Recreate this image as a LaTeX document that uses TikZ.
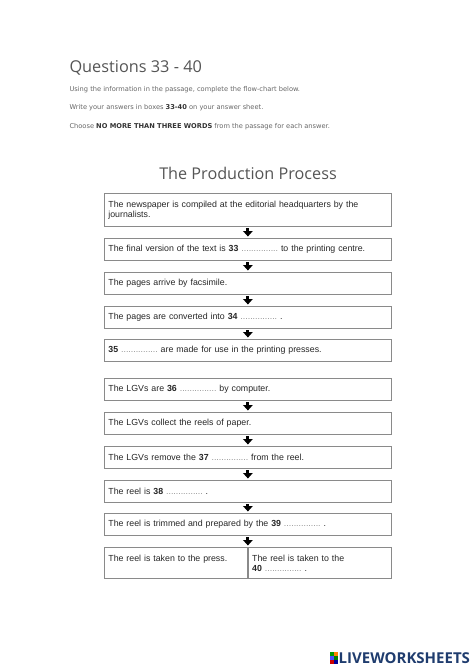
\documentclass[tikz,border=0pt]{standalone}
\usepackage{fontspec}
\usetikzlibrary{arrows.meta}
\newfontfamily\boxfont{Liberation Sans}
\newfontfamily\notefont{DejaVu Sans}
\newfontfamily\headfont{Open Sans}

\definecolor{boxgray}{HTML}{8A8A8A}
\definecolor{notegray}{HTML}{666666}
\definecolor{headgray}{HTML}{555555}
\definecolor{dotgray}{HTML}{8C8C8C}
\definecolor{lwblue}{HTML}{1F3C6E}

\newcommand{\blank}{\textcolor{dotgray}{...............}}

\tikzset{
  procbox/.style={draw=boxgray, line width=0.8pt, rectangle, anchor=north west,
    text width=279pt, inner xsep=4pt, inner ysep=2pt, minimum height=22pt,
    align=left, text=black!85, font=\boxfont\fontsize{8.8}{10}\selectfont},
  halfbox/.style={procbox, text width=135pt, minimum height=31pt},
  flowarrow/.style={-{Triangle[width=9.5pt,length=5.5pt]}, line width=3pt,
    shorten <=1.5pt, shorten >=1.5pt},
  note/.style={anchor=west, text=notegray, font=\notefont\fontsize{6.66}{8}\selectfont}
}

\begin{document}
\begin{tikzpicture}[x=1pt,y=-1pt]
    \useasboundingbox (0,0) rectangle (474,669);

    \node[anchor=base west,text=headgray,font=\headfont\fontsize{16.3}{18}\selectfont](questions)at(66,73){Questions 33 - 40};
    \node[note](line1)at(66,90){Using the information in the passage, complete the flow-chart below.};
    \node[note](line2)at(66,108){Write your answers in boxes \textbf{\color{black!80}33-40} on your answer sheet.};
    \node[note](line3)at(66,127){Choose \textbf{\color{black!80}NO MORE THAN THREE WORDS} from the passage for each answer.};

    \node[anchor=base,text=headgray,font=\headfont\fontsize{16.2}{18}\selectfont](title)at(248,179){The Production Process};

    \node[procbox,minimum height=33pt](b1)at(104,193){The newspaper is compiled at the editorial headquarters by the\\journalists.};
    \node[procbox](b2)at(104,238){The final version of the text is \textbf{33} \blank\ to the printing centre.};
    \node[procbox](b3)at(104,272){The pages arrive by facsimile.};
    \node[procbox](b4)at(104,306){The pages are converted into \textbf{34} \blank\ .};
    \node[procbox](b5)at(104,339){\textbf{35} \blank\ are made for use in the printing presses.};

    \node[procbox](b6)at(104,378){The LGVs are \textbf{36} \blank\ by computer.};
    \node[procbox](b7)at(104,412){The LGVs collect the reels of paper.};
    \node[procbox](b8)at(104,446){The LGVs remove the \textbf{37} \blank\ from the reel.};
    \node[procbox](b9)at(104,480){The reel is \textbf{38} \blank\ .};
    \node[procbox](b10)at(104,513){The reel is trimmed and prepared by the \textbf{39} \blank\ .};
    \node[halfbox](b11l)at(104,547){The reel is taken to the press.\\\mbox{}};
    \node[halfbox,anchor=north west](b11r)at(b11l.north east){The reel is taken to the\\\textbf{40} \blank\ .};

    \draw[flowarrow](b1.south)--(b2.north);
    \draw[flowarrow](b2.south)--(b3.north);
    \draw[flowarrow](b3.south)--(b4.north);
    \draw[flowarrow](b4.south)--(b5.north);

    \draw[flowarrow](b6.south)--(b7.north);
    \draw[flowarrow](b7.south)--(b8.north);
    \draw[flowarrow](b8.south)--(b9.north);
    \draw[flowarrow](b9.south)--(b10.north);
    \draw[flowarrow](b10.south)--(b10.south|-b11l.north);

    % site logo
    \fill[green!60!black](330,652)rectangle(333.5,655.5);
    \fill[orange](334,652)rectangle(337.5,655.5);
    \fill[blue!70](330,656)rectangle(333.5,659.5);
    \fill[green!50!black](334,656)rectangle(337.5,659.5);
    \fill[red!80!black](330,660)rectangle(333.5,663.5);
    \fill[blue!60!black](334,660)rectangle(337.5,663.5);
    \node[anchor=west,inner sep=0pt,text=lwblue,font=\headfont\bfseries\fontsize{15}{17}\selectfont](logo)at(338.5,658){LIVEWORKSHEETS};
\end{tikzpicture}
\end{document}
